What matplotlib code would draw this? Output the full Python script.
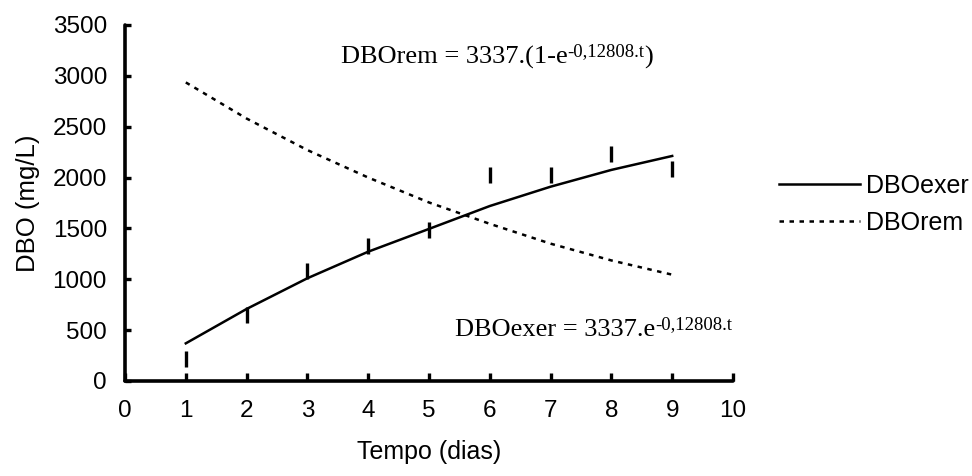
import numpy as np
import matplotlib
matplotlib.use("Agg")
import matplotlib.pyplot as plt

plt.rcParams['font.family'] = ['Liberation Sans', 'DejaVu Sans']

# values
dias = [1, 2, 3, 4, 5, 6, 7, 8, 9]
dbo_medido = [220, 644, 1082, 1327, 1485, 2026, 2020, 2227, 2080]
dbo_exer = [370, 708, 1010, 1271, 1495, 1720, 1910, 2075, 2212]
dbo_rem = [2935, 2580, 2270, 2000, 1755, 1545, 1350, 1185, 1045]

fig = plt.figure(figsize=(9.72, 4.76), dpi=100)
ax = fig.add_axes([0.1286, 0.1996, 0.6255, 0.748])

ax.plot(dias, dbo_exer, color='black', lw=1.8, label='DBOexer')
ax.plot(dias, dbo_rem, color='black', lw=1.8, dashes=(1.8, 2.2), label='DBOrem')
ax.plot(dias, dbo_medido, ls='none', marker='|', ms=11, mew=2.4, color='black')

ax.set_xlim(0, 10)
ax.set_ylim(0, 3500)
ax.set_xticks(range(0, 11))
ax.set_yticks(range(0, 3501, 500))

for s in ['top', 'right']:
    ax.spines[s].set_visible(False)
for s in ['left', 'bottom']:
    ax.spines[s].set_linewidth(2.6)
    ax.spines[s].set_capstyle('round')

ax.tick_params(axis='x', direction='in', length=6, width=2.4, pad=14, labelsize=17.5)
ax.tick_params(axis='y', direction='in', length=4, width=2.4, pad=13, labelsize=17.5)

ax.set_xlabel('Tempo (dias)', fontsize=18, labelpad=13)
ax.set_ylabel('DBO (mg/L)', fontsize=18.5, labelpad=9)


def equacao(x, y, base, expo):
    # base text in serif, exponent as a smaller raised text right after it
    t = ax.text(x, y, base, family='Liberation Serif', fontsize=19, va='baseline')
    r = fig.canvas.get_renderer()
    bb = t.get_window_extent(renderer=r)
    px, py = ax.transData.transform((x, y))
    e = fig.text(bb.x1 / fig.bbox.width, (py + 7) / fig.bbox.height, expo,
                 family='Liberation Serif', fontsize=13.5, va='baseline')
    return e, py


e1, py1 = equacao(3.55, 3122, 'DBOrem = 3337.(1-e', '-0,12808.t')
r = fig.canvas.get_renderer()
bb = e1.get_window_extent(renderer=r)
fig.text(bb.x1 / fig.bbox.width, py1 / fig.bbox.height, ')',
         family='Liberation Serif', fontsize=19, va='baseline')
equacao(5.43, 442, 'DBOexer = 3337.e', '-0,12808.t')

fig.legend(loc='center left', bbox_to_anchor=(0.8014, 0.5704), frameon=False,
           borderaxespad=0, borderpad=0,
           fontsize=18, handlelength=3.25, handletextpad=0.24, labelspacing=0.5)

plt.savefig('out.png', dpi=100)
